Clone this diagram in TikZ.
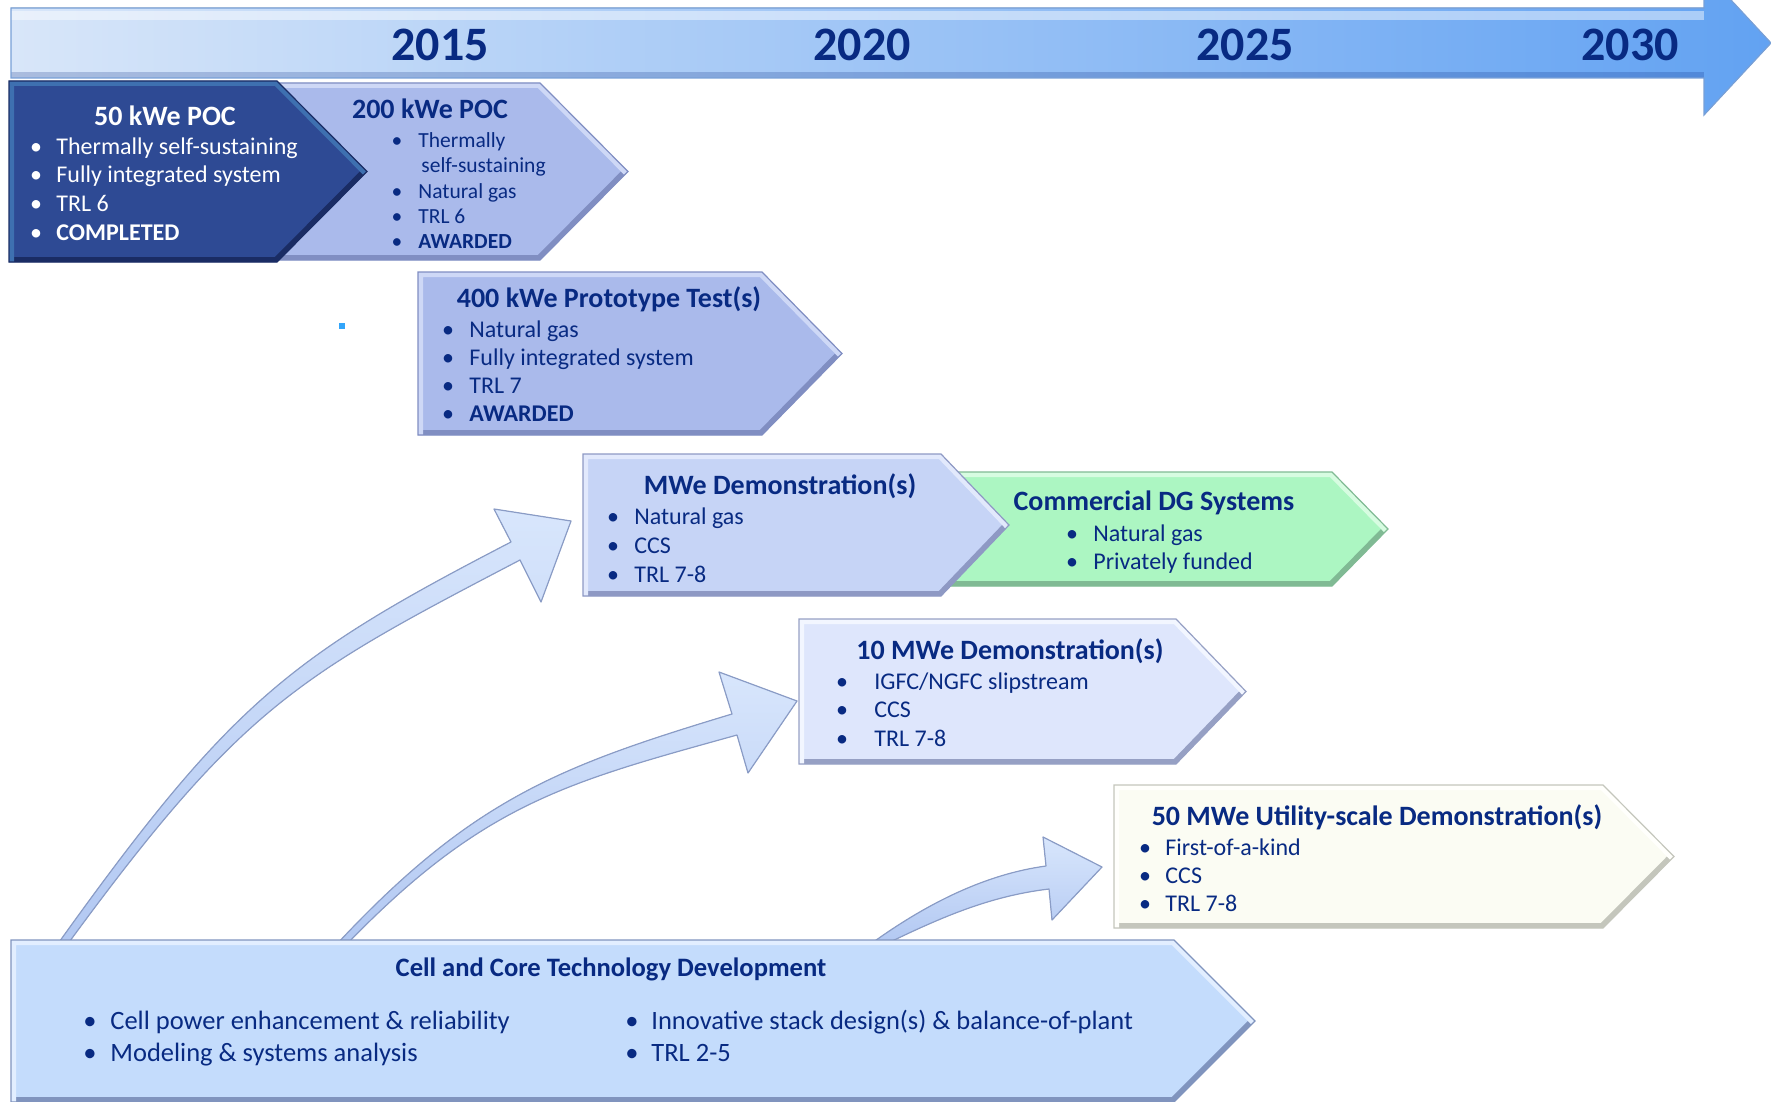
\documentclass[tikz,border=0pt]{standalone}
\usepackage{fontspec}
\setmainfont{Carlito}
\usetikzlibrary{calc}

% text and timeline colours
\definecolor{ink}{RGB}{8,42,130}
\definecolor{tlA}{RGB}{216,230,249}
\definecolor{tlB}{RGB}{160,206,250}
\definecolor{tlC}{RGB}{98,162,242}
\definecolor{tlEdge}{RGB}{120,160,215}
% box fills and rims
\definecolor{navyF}{RGB}{46,74,148}   \definecolor{navyL}{RGB}{62,112,176}  \definecolor{navyD}{RGB}{26,44,100}
\definecolor{periF}{RGB}{170,186,235} \definecolor{periL}{RGB}{206,216,246} \definecolor{periD}{RGB}{128,142,194}
\definecolor{lavF}{RGB}{198,212,246}  \definecolor{lavL}{RGB}{226,233,252}  \definecolor{lavD}{RGB}{142,153,196}
\definecolor{mintF}{RGB}{172,246,194} \definecolor{mintL}{RGB}{215,252,225} \definecolor{mintD}{RGB}{128,186,148}
\definecolor{paleF}{RGB}{222,230,252} \definecolor{paleL}{RGB}{242,246,255} \definecolor{paleD}{RGB}{150,160,196}
\definecolor{ivoF}{RGB}{251,252,243}  \definecolor{ivoL}{RGB}{255,255,252}  \definecolor{ivoD}{RGB}{196,198,188}
\definecolor{skyF}{RGB}{196,220,252}  \definecolor{skyL}{RGB}{226,238,255}  \definecolor{skyD}{RGB}{128,148,190}
\definecolor{arrT}{RGB}{216,230,252}  \definecolor{arrB}{RGB}{178,200,242}  \definecolor{arrEdge}{RGB}{138,156,198}
\definecolor{speck}{RGB}{50,165,250}

% bevelled chevron: #1 name, #2 fill, #3 light rim, #4 dark rim,
% #5 left x, #6 top y, #7 corner x, #8 tip x, #9 bottom y
\newcommand\chevron[9]{%
  \coordinate (#1-nw) at (#5,#6);
  \coordinate (#1-ne) at (#7,#6);
  \coordinate (#1-tip) at ({#8},{(#6+#9)/2});
  \coordinate (#1-se) at (#7,#9);
  \coordinate (#1-sw) at (#5,#9);
  \begin{scope}
    \clip (#1-nw) -- (#1-ne) -- (#1-tip) -- (#1-se) -- (#1-sw) -- cycle;
    \fill[#2] (#1-nw) -- (#1-ne) -- (#1-tip) -- (#1-se) -- (#1-sw) -- cycle;
    \draw[#4, line width=5pt] (#1-sw) -- (#1-se) -- (#1-tip);
    \draw[#3, line width=5pt] (#1-sw) -- (#1-nw) -- (#1-ne) -- (#1-tip);
  \end{scope}
  \draw[#4, line width=0.6pt, line join=miter]
    (#1-nw) -- (#1-ne) -- (#1-tip) -- (#1-se) -- (#1-sw) -- cycle;
}

% bullet line: [extra style] name, bullet x, text x, y, text
\newcommand\bline[6][]{%
  \node[dot,#1] (#2-b) at (#3,#5) {•};
  \node[txt,#1] (#2) at (#4,#5) {#6};
}

\begin{document}
\begin{tikzpicture}[x=0.5pt,y=-0.5pt,
  ttl/.style={font=\bfseries\fontsize{14}{16}\selectfont, text=ink, anchor=mid, inner sep=0pt},
  txt/.style={font=\fontsize{12}{14}\selectfont, text=ink, anchor=mid west, inner sep=0pt},
  dot/.style={font=\fontsize{12}{14}\selectfont, text=ink, anchor=mid, inner sep=0pt},
  small/.style={font=\fontsize{10.75}{12}\selectfont},
  large/.style={font=\fontsize{13.25}{15}\selectfont},
  year/.style={font=\bfseries\fontsize{24}{27}\selectfont, text=ink, anchor=mid, inner sep=0pt},
  arrowbody/.style={top color=arrT, bottom color=arrB, draw=arrEdge, line width=0.6pt, line join=round},
]
\useasboundingbox (0,0) rectangle (1771,1102);
\clip (0,0) rectangle (1771,1102);

% ---------- timeline arrow ----------
\fill[left color=tlA, middle color=tlB, right color=tlC]
  (11,8) -- (1704,8) -- (1704,-29) -- (1771,43) -- (1704,115) -- (1704,78) -- (11,78) -- cycle;
\fill[white, opacity=0.45] (11,11) rectangle (1704,20);
\fill[ink, opacity=0.22] (11,72) rectangle (1704,78);
\draw[tlEdge, line width=0.6pt]
  (11,8) -- (1704,8) -- (1704,-29) -- (1771,43) -- (1704,115) -- (1704,78) -- (11,78) -- cycle;
\node[year] (y2015) at (440,56) {2015};
\node[year] (y2020) at (862,56) {2020};
\node[year] (y2025) at (1245,56) {2025};
\node[year] (y2030) at (1630,56) {2030};

% ---------- curved feeder arrows ----------
\coordinate (fa-start) at (62,945);  \coordinate (fa-tip) at (571,521);
\coordinate (fb-start) at (341,945); \coordinate (fb-tip) at (797,701);
\coordinate (fc-start) at (880,943); \coordinate (fc-tip) at (1102,867);
\filldraw[arrowbody]
  (57,945) .. controls (231,702) and (289,657) .. (511,542)
  -- (494,509) -- (fa-tip) -- (541,602) -- (520,560)
  .. controls (298,676) and (242,706) .. (67,945) -- cycle;
\filldraw[arrowbody]
  (336,945) .. controls (472,799) and (560,766) .. (732,714)
  -- (719,672) -- (fb-tip) -- (748,773) -- (737,735)
  .. controls (568,782) and (483,803) .. (346,945) -- cycle;
\filldraw[arrowbody]
  (872,943) .. controls (929,902) and (987,874) .. (1046,866)
  -- (1043,837) -- (fc-tip) -- (1052,920) -- (1049,889)
  .. controls (990,896) and (942,917) .. (888,943) -- cycle;

% ---------- chevrons ----------
\chevron{core}{skyF}{skyL}{skyD}{11}{940}{1174}{1255}{1102}
\chevron{poc200}{periF}{periL}{periD}{270}{83}{540}{628}{260}
\chevron{poc50}{navyF}{navyL}{navyD}{9}{81}{277}{367}{262}
\chevron{proto}{periF}{periL}{periD}{418}{272}{762}{842}{435}
\chevron{comm}{mintF}{mintL}{mintD}{930}{472}{1332}{1388}{586}
\chevron{mwe}{lavF}{lavL}{lavD}{583}{454}{941}{1009}{596}
\chevron{mwe10}{paleF}{paleL}{paleD}{799}{619}{1176}{1246}{764}
\chevron{mwe50}{ivoF}{ivoL}{ivoD}{1114}{785}{1603}{1674}{928}

\fill[speck] (339,323) rectangle (345,329);

% ---------- texts ----------
\begin{scope}[yshift=-2pt]
% 50 kWe POC
\node[ttl, text=white] (t-poc50) at (165,117) {50 kWe POC};
\bline[text=white]{poc50-1}{36}{56}{146}{Thermally self-sustaining}
\bline[text=white]{poc50-2}{36}{56}{174}{Fully integrated system}
\bline[text=white]{poc50-3}{36}{56}{203}{TRL 6}
\bline[text=white]{poc50-4}{36}{56}{232}{\bfseries COMPLETED}

% 200 kWe POC
\node[ttl] (t-poc200) at (430,110) {200 kWe POC};
\bline[small]{poc200-1}{397}{418}{139}{Thermally}
\node[txt,small] (poc200-1b) at (421,164) {self-sustaining};
\bline[small]{poc200-2}{397}{418}{190}{Natural gas}
\bline[small]{poc200-3}{397}{418}{215}{TRL 6}
\bline[small]{poc200-4}{397}{418}{240}{\bfseries AWARDED}

% 400 kWe prototype
\node[ttl] (t-proto) at (609,299) {400 kWe Prototype Test(s)};
\bline{proto-1}{448}{469}{329}{Natural gas}
\bline{proto-2}{448}{469}{357}{Fully integrated system}
\bline{proto-3}{448}{469}{385}{TRL 7}
\bline{proto-4}{448}{469}{413}{\bfseries AWARDED}

% MWe demonstration
\node[ttl] (t-mwe) at (780,486) {MWe Demonstration(s)};
\bline{mwe-1}{613}{634}{516}{Natural gas}
\bline{mwe-2}{613}{634}{545}{CCS}
\bline{mwe-3}{613}{634}{574}{TRL 7-8}

% commercial systems
\node[ttl] (t-comm) at (1154,502) {Commercial DG Systems};
\bline{comm-1}{1072}{1093}{533}{Natural gas}
\bline{comm-2}{1072}{1093}{561}{Privately funded}

% 10 MWe demonstration
\node[ttl] (t-mwe10) at (1010,651) {10 MWe Demonstration(s)};
\bline{mwe10-1}{842}{874}{681}{IGFC/NGFC slipstream}
\bline{mwe10-2}{842}{874}{709}{CCS}
\bline{mwe10-3}{842}{874}{738}{TRL 7-8}

% 50 MWe demonstration
\node[ttl] (t-mwe50) at (1377,817) {50 MWe Utility-scale Demonstration(s)};
\bline{mwe50-1}{1145}{1165}{847}{First-of-a-kind}
\bline{mwe50-2}{1145}{1165}{875}{CCS}
\bline{mwe50-3}{1145}{1165}{903}{TRL 7-8}

% cell and core technology
\node[ttl, font=\bfseries\fontsize{13.3}{15}\selectfont] (t-core) at (611,968) {Cell and Core Technology Development};
\bline[large]{core-1}{90}{110}{1021}{Cell power enhancement \& reliability}
\bline[large]{core-2}{90}{110}{1053}{Modeling \& systems analysis}
\bline[large]{core-3}{632}{651}{1021}{Innovative stack design(s) \& balance-of-plant}
\bline[large]{core-4}{632}{651}{1053}{TRL 2-5}
\end{scope}
\end{tikzpicture}
\end{document}
